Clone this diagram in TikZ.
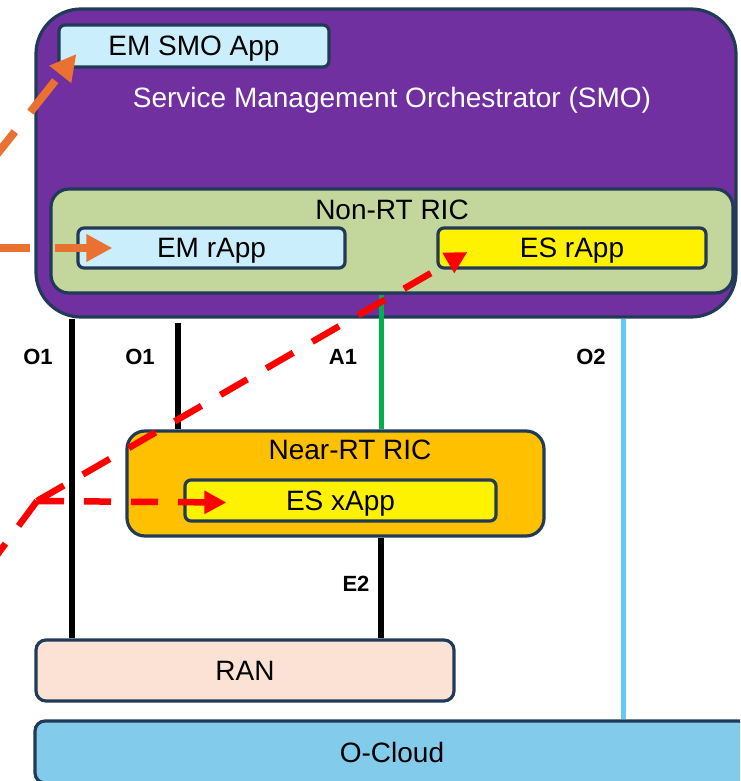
\documentclass[tikz,border=0pt]{standalone}
\usepackage{fontspec}
\setmainfont{Liberation Sans}
\usetikzlibrary{arrows.meta}
\definecolor{oranpurple}{HTML}{7030A0}
\definecolor{oranedge}{HTML}{213A58}
\definecolor{oranapp}{HTML}{CAEEFB}
\definecolor{oranolive}{HTML}{C3D69B}
\definecolor{oranamber}{HTML}{FFC000}
\definecolor{oranpeach}{HTML}{FBE2D5}
\definecolor{orancloud}{HTML}{83CBEB}
\definecolor{oransky}{HTML}{61CBF3}
\definecolor{orangreen}{HTML}{00B050}
\definecolor{oranflow}{HTML}{E97132}
\tikzset{
  box/.style={draw=oranedge,line width=3.2pt,inner sep=0pt,text depth=0pt,
    font=\fontsize{28}{32}\selectfont},
  app box/.style={box,fill=oranapp,rounded corners=6pt},
  es box/.style={box,fill=yellow,rounded corners=6pt},
  box title/.style={inner sep=0pt,text depth=0pt,font=\fontsize{28}{32}\selectfont},
  iface/.style={draw=black,line width=6.5pt},
  iface label/.style={inner sep=0pt,font=\fontsize{22}{26}\selectfont\bfseries},
  em flow/.style={draw=oranflow,line width=8pt,dash pattern=on 40pt off 25pt,
    -{Triangle[length=26pt,width=26pt]}},
  es line/.style={draw=red,line width=6.5pt,dash pattern=on 31pt off 22pt},
  es flow/.style={es line,-{Triangle[length=22pt,width=22pt]}}
}

\begin{document}
\begin{tikzpicture}[x=1pt,y=-1pt]
  \useasboundingbox (0,0) rectangle (740,781);
  \clip (0,0) rectangle (740,781);
  % SMO and Non-RT RIC
  \node[box,fill=oranpurple,rounded corners=45pt,minimum width=700pt,
    minimum height=308pt] (smo) at (386,163) {};
  \node[app box,minimum width=270pt,minimum height=42pt] (emsmo) at (194,46) {EM SMO App};
  \node[box title,text=white] (smo title) at (392,97) {Service Management Orchestrator (SMO)};
  \node[box,fill=oranolive,rounded corners=18pt,minimum width=682pt,
    minimum height=104pt] (nonrt) at (392,241) {};
  \node[box title] (nonrt title) at (392,210) {Non-RT RIC};
  \node[app box,minimum width=267pt,minimum height=40pt] (emr) at (211.5,248) {EM rApp};
  \node[es box,minimum width=268pt,minimum height=40pt] (esr) at (572,248) {ES rApp};
  % Near-RT RIC
  \node[box,fill=oranamber,rounded corners=18pt,minimum width=417pt,
    minimum height=105pt] (nearrt) at (335.5,483.5) {};
  \node[box title] (nearrt title) at (350,450) {Near-RT RIC};
  \node[es box,minimum width=311pt,minimum height=41pt] (esx) at (340.5,500.5) {ES xApp};
  % RAN and O-Cloud
  \node[box,fill=oranpeach,rounded corners=10pt,minimum width=418pt,
    minimum height=61pt] (ran) at (245,670.5) {RAN};
  \node[box,fill=orancloud,rounded corners=10pt,minimum width=714pt,
    minimum height=62pt] (ocloud) at (392,752) {O-Cloud};

  % interfaces
  \coordinate (x o1a) at (72,0);
  \coordinate (o1b top) at (178,323);
  \coordinate (x ric) at (381,0);
  \coordinate (x o2) at (623,0);
  \draw[iface] (smo.south -| x o1a) -- (ran.north -| x o1a);
  \draw[iface] (o1b top) -- (nearrt.north -| o1b top);
  \draw[iface,draw=orangreen,line width=5pt] (nonrt.south -| x ric) -- (nearrt.north -| x ric);
  \draw[iface] (nearrt.south -| x ric) -- (ran.north -| x ric);
  \draw[iface,draw=oransky,line width=5pt] (smo.south -| x o2) -- (ocloud.north -| x o2);
  \node[iface label] (o1a label) at (38,357) {O1};
  \node[iface label] (o1b label) at (140,357) {O1};
  \node[iface label] (a1 label) at (343,357) {A1};
  \node[iface label] (o2 label) at (591,357) {O2};
  \node[iface label] (e2 label) at (356,584) {E2};

  % EM flows
  \coordinate (em src a) at (-10,163);
  \coordinate (em src b) at (-10,248);
  \draw[em flow] (em src a) -- ([xshift=19pt,yshift=-8pt]emsmo.west);
  \draw[em flow] (em src b) -- ([xshift=36pt]emr.west);
  % ES flows
  \coordinate (es src) at (-14,570);
  \coordinate (es fork) at (37,501);
  \draw[es line] (es fork) -- (es src);
  \draw[es flow] (es fork) -- ([xshift=31pt,yshift=-4pt]esr.west);
  \draw[es flow,dash pattern=on 27pt off 20pt] (es fork) -- ([xshift=43pt,yshift=-2pt]esx.west);
\end{tikzpicture}
\end{document}
